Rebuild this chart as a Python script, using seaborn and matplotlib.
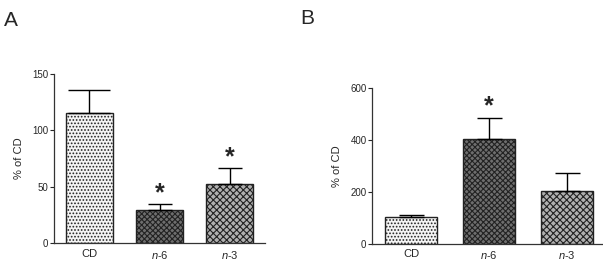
import numpy as np
import pandas as pd
import matplotlib
matplotlib.use('Agg')
import matplotlib.pyplot as plt
import seaborn as sns

# 数据
GROUPS = ['CD', 'n-6', 'n-3']
TICK_LABELS = ['CD', '$n$-6', '$n$-3']

A_MEAN = [115, 29, 52]
A_SEM = [21, 6, 15]
A_STAR = [False, True, True]

B_MEAN = [101, 403, 203]
B_SEM = [9, 79, 70]
B_STAR = [False, True, False]

HATCHES = ['.....', 'xxxxxx', 'xxxxx']
FACES = ['#f4f4f4', '#6e6e6e', '#b0b0b0']

sns.set_style('white')
plt.rcParams['font.family'] = ['Liberation Sans', 'DejaVu Sans']
plt.rcParams['mathtext.fontset'] = 'custom'
plt.rcParams['mathtext.it'] = 'Liberation Sans:italic'
plt.rcParams['mathtext.rm'] = 'Liberation Sans'
plt.rcParams['hatch.linewidth'] = 0.8


def draw_panel(ax, mean, sem, star, ymax, ystep, star_pad, xright, caps):
    df = pd.DataFrame({'group': GROUPS, 'value': mean})
    sns.barplot(data=df, x='group', y='value', ax=ax, width=0.67,
                edgecolor='black', linewidth=1.0, errorbar=None)
    for patch, h, fc in zip(ax.patches, HATCHES, FACES):
        patch.set_facecolor(fc)
        patch.set_hatch(h)
        patch.set_edgecolor('#222222')
    x = np.arange(len(mean))
    # 只画向上的误差线
    for i in x:
        ax.errorbar(i, mean[i], yerr=[[0], [sem[i]]], fmt='none',
                    ecolor='black', elinewidth=1.0, capsize=caps[i], capthick=1.0)
    for i, s in enumerate(star):
        if s:
            ax.text(i, mean[i] + sem[i] + star_pad, '*', ha='center', va='center',
                    fontsize=18, fontweight='bold')
    ax.set_ylim(0, ymax)
    ax.set_xlim(-0.5, xright)
    ax.set_yticks(np.arange(0, ymax + 1, ystep))
    ax.set_xticks(x)
    ax.set_xticklabels(TICK_LABELS, fontsize=8)
    ax.tick_params(axis='y', labelsize=7, length=3, width=0.8, direction='out', left=True, pad=1)
    ax.tick_params(axis='x', length=0, pad=4)
    ax.set_xlabel('')
    ax.set_ylabel('% of CD', fontsize=8, labelpad=6)
    sns.despine(ax=ax)
    for sp in ['left', 'bottom']:
        ax.spines[sp].set_linewidth(0.9)
        ax.spines[sp].set_color('#333333')


fig = plt.figure(figsize=(6.03, 2.62), dpi=100)
axA = fig.add_axes([0.0896, 0.0725, 0.35, 0.645])
axB = fig.add_axes([0.617, 0.070, 0.381, 0.595])

draw_panel(axA, A_MEAN, A_SEM, A_STAR, 150, 50, 9, 2.5, [15, 8.5, 8.5])
draw_panel(axB, B_MEAN, B_SEM, B_STAR, 600, 200, 45, 2.45, [9, 9, 9])

fig.text(0.006, 0.92, 'A', fontsize=15, va='center')
fig.text(0.498, 0.93, 'B', fontsize=15, va='center')

fig.savefig('out.png', dpi=100)
